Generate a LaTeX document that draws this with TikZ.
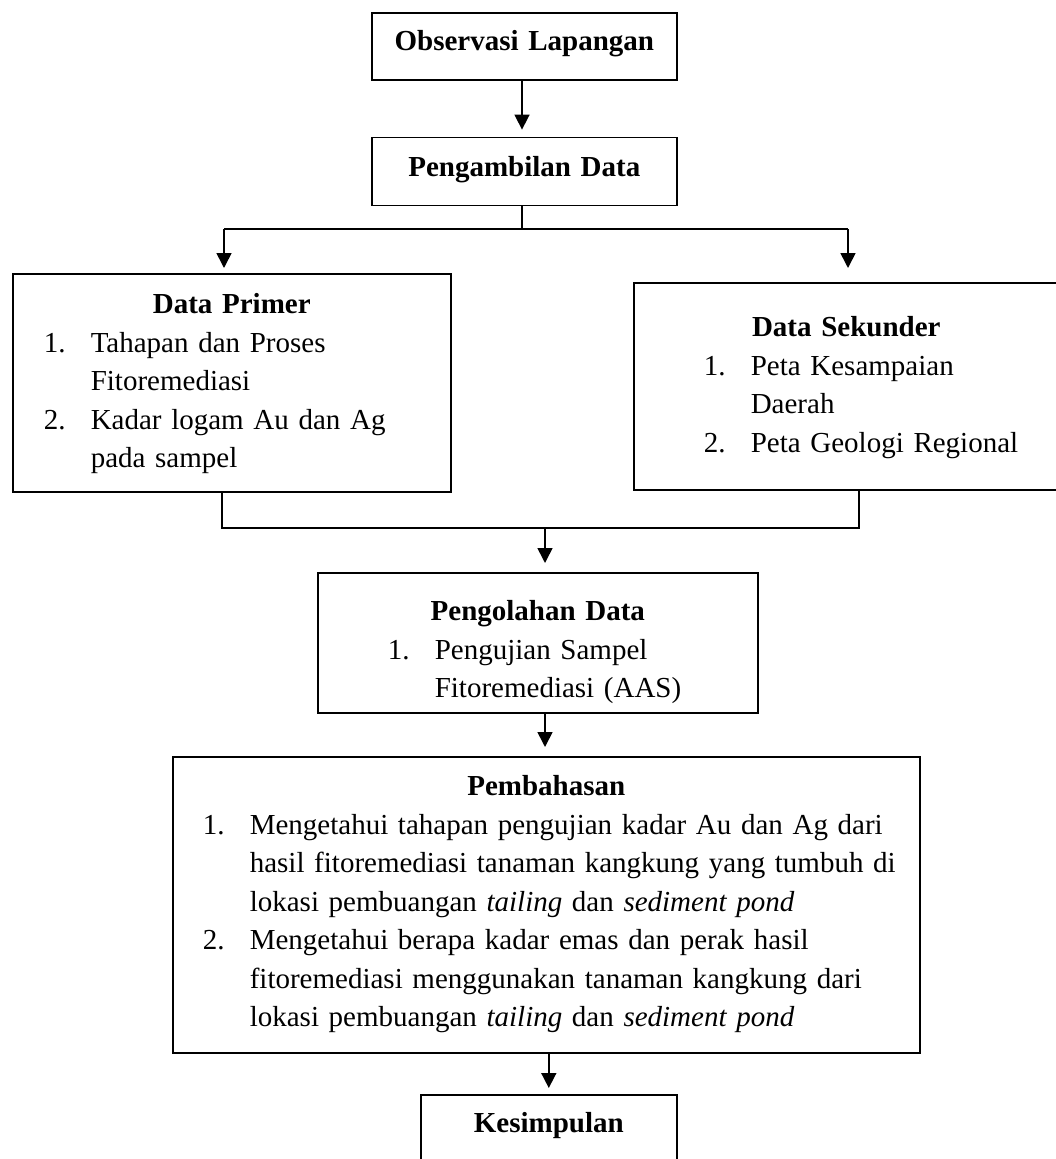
\documentclass[tikz,border=0pt]{standalone}
\usepackage{fontspec}
\setmainfont{Liberation Serif}
\usetikzlibrary{arrows.meta, positioning}

% heading and numbered lines inside the boxes
\newcommand{\judul}[1]{\makebox[\linewidth]{\textbf{#1}}}
\newcommand{\butir}[3]{\hspace*{#1}\makebox[47pt][l]{#2}#3}
\newcommand{\sambung}[2]{\hspace*{#1}#2}

\begin{document}
\begin{tikzpicture}[
      x=1pt, y=-1pt,
      box/.style={draw, line width=1.6pt, inner sep=0pt, align=left,
        font=\fontsize{29pt}{38.5pt}\selectfont},
      arr/.style={-{Triangle[length=15pt,width=15pt]}, line width=1.6pt, shorten >=7pt},
      garis/.style={line width=1.6pt}
    ]
      \useasboundingbox (0,0) rectangle (1055,1159);

% Top chain
      \node[box, text width=305pt, text height=38pt, text depth=29pt, anchor=north west] (obs) at (371,12)
        {\judul{Observasi Lapangan}};
      \node[box, text width=305pt, text height=39pt, text depth=29pt, below=56pt of obs] (ambil)
        {\judul{Pengambilan Data}};

% Data boxes
      \node[box, text width=438pt, text height=40pt, text depth=178pt, anchor=north west] (primer) at (12,273)
        {\judul{Data Primer}\\
         \butir{31pt}{1.}{Tahapan dan Proses}\\
         \sambung{78pt}{Fitoremediasi}\\
         \butir{31pt}{2.}{Kadar logam Au dan Ag}\\
         \sambung{78pt}{pada sampel}};
      \node[box, text width=425pt, text height=54pt, text depth=153pt, anchor=north west] (sekunder) at (633,282)
        {\judul{Data Sekunder}\\
         \butir{70pt}{1.}{Peta Kesampaian}\\
         \sambung{117pt}{Daerah}\\
         \butir{70pt}{2.}{Peta Geologi Regional}};

      \node[box, text width=440pt, text height=48pt, text depth=92pt, anchor=north west] (olah) at (317,572)
        {\judul{Pengolahan Data}\\
         \butir{70pt}{1.}{Pengujian Sampel}\\
         \sambung{117pt}{Fitoremediasi (AAS)}};

      \node[box, text width=747pt, text height=39pt, text depth=257pt, anchor=north west] (bahas) at (172,756)
        {\judul{Pembahasan}\\
         \butir{30pt}{1.}{Mengetahui tahapan pengujian kadar Au dan Ag dari}\\
         \sambung{77pt}{hasil fitoremediasi tanaman kangkung yang tumbuh di}\\
         \sambung{77pt}{lokasi pembuangan \textit{tailing} dan \textit{sediment pond}}\\
         \butir{30pt}{2.}{Mengetahui berapa kadar emas dan perak hasil}\\
         \sambung{77pt}{fitoremediasi menggunakan tanaman kangkung dari}\\
         \sambung{77pt}{lokasi pembuangan \textit{tailing} dan \textit{sediment pond}}};

      \node[box, text width=256pt, text height=38pt, text depth=80pt, anchor=north west] (simpul) at (420,1094)
        {\judul{Kesimpulan}};

% Split points
      \coordinate (pisah) at (522,229);
      \coordinate (pisahL) at (224,229);
      \coordinate (pisahR) at (848,229);
      \coordinate (gabungL) at (222,528);
      \coordinate (gabungR) at (859,528);
      \coordinate (gabung) at (545,528);

% Arrows
      \draw[arr] (obs.south -| pisah) -- (ambil.north -| pisah);
      \draw[garis] (ambil.south -| pisah) -- (pisah);
      \draw[garis] (pisahL) -- (pisahR);
      \draw[arr, shorten >=5pt] (pisahL) -- (pisahL |- primer.north);
      \draw[arr, shorten >=5pt] (pisahR) -- (pisahR |- primer.north);

      \draw[garis] (primer.south -| gabungL) -- (gabungL) -- (gabungR) -- (sekunder.south -| gabungR);
      \draw[arr, shorten >=9pt] (gabung) -- (gabung |- olah.north);
      \draw[arr, shorten >=9pt] (gabung |- olah.south) -- (gabung |- bahas.north);
      \draw[arr, shorten >=6pt] (bahas.south -| simpul.north) -- (simpul.north);
    \end{tikzpicture}
\end{document}
